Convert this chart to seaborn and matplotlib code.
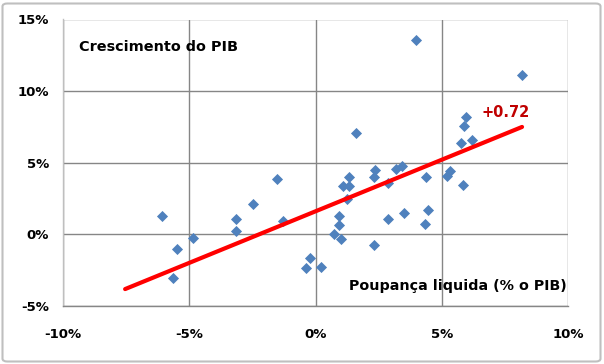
import matplotlib
matplotlib.use("Agg")
import matplotlib.pyplot as plt
import seaborn as sns
import pandas as pd
import numpy as np
from matplotlib.patches import FancyBboxPatch
from matplotlib.ticker import FuncFormatter

# Data (in %)
poupanca = [-6.07, -5.50, -5.63, -4.84, -3.15, -3.15, -2.46, -1.54, -1.28, -0.38,
            -0.22, 0.23, 1.60, 1.31, 1.10, 1.31, 1.23, 0.94, 0.92, 0.73,
            1.00, 2.30, 2.36, 2.30, 2.88, 2.86, 3.19, 3.41, 3.50, 4.37,
            4.47, 4.34, 5.20, 5.33, 5.83, 5.75, 5.88, 5.95, 6.20, 3.98, 8.18]
crescimento = [1.31, -1.00, -3.08, -0.24, 1.04, 0.25, 2.09, 3.90, 0.91, -2.32,
               -1.68, -2.25, 7.06, 4.00, 3.35, 3.35, 2.47, 1.26, 0.68, 0.00,
               -0.30, -0.71, 4.48, 4.00, 3.57, 1.04, 4.55, 4.76, 1.47, 4.00,
               1.68, 0.69, 4.05, 4.40, 3.43, 6.41, 7.57, 8.20, 6.57, 13.57, 11.14]
trend_slope = 0.72
trend_intercept = 1.61
trend_x = [-7.54, 8.18]
slope_label = "+0.72"
x_ticks = [-10, -5, 0, 5, 10]
y_ticks = [-5, 0, 5, 10, 15]
y_title = "Crescimento do PIB"
x_title = "Poupança liquida (% o PIB)"

df = pd.DataFrame({"x": poupanca, "y": crescimento})
trend = pd.DataFrame({"x": trend_x, "y": [trend_slope * v + trend_intercept for v in trend_x]})

sns.set_theme(style="white")
plt.rcParams['font.family'] = ['DejaVu Sans']

fig = plt.figure(figsize=(6.04, 3.64), dpi=100)
ax = fig.add_axes([63 / 604, 1 - 306 / 364, (568 - 63) / 604, (306 - 19.5) / 364])

# outer chart border
border = FancyBboxPatch((2.5 / 604, 2.5 / 364), 598 / 604, 358 / 364,
                        boxstyle="round,pad=0,rounding_size=0.008",
                        transform=fig.transFigure, fill=False,
                        edgecolor="#BFBFBF", linewidth=1.5)
fig.patches.append(border)

sns.scatterplot(data=df, x="x", y="y", ax=ax, marker="D", s=32,
                color="#4F81BD", linewidth=0, zorder=3)
sns.lineplot(data=trend, x="x", y="y", ax=ax, color="#FF0000", linewidth=3,
             zorder=4, solid_capstyle="round")

ax.set_xlim(-10, 10)
ax.set_ylim(-5, 15)
ax.set_xticks(x_ticks)
ax.set_yticks(y_ticks)
fmt = FuncFormatter(lambda v, p: f"{int(v)}%")
ax.xaxis.set_major_formatter(fmt)
ax.yaxis.set_major_formatter(fmt)
ax.set_xlabel("")
ax.set_ylabel("")

ax.grid(True, color="#868686", linewidth=1)
ax.set_axisbelow(True)
for s in ["top", "right"]:
    ax.spines[s].set_visible(False)
ax.spines["left"].set_color("#BFBFBF")
ax.spines["bottom"].set_color("#868686")
ax.spines["left"].set_linewidth(1)
ax.spines["bottom"].set_linewidth(1)

ax.tick_params(axis="both", direction="out", length=3, width=1, color="#868686",
               labelsize=9.5, labelcolor="black")
ax.tick_params(axis="y", pad=7)
ax.tick_params(axis="x", pad=13)
for lab in ax.get_xticklabels() + ax.get_yticklabels():
    lab.set_fontweight("bold")

ax.text(-9.35, 13.1, y_title, fontsize=10.4, fontweight="bold", ha="left", va="center",
        color="black")
ax.text(9.95, -3.6, x_title, fontsize=10.3, fontweight="bold", ha="right", va="center",
        color="black")
ax.text(7.54, 8.5, slope_label, fontsize=10.5, fontweight="bold", ha="center",
        va="center", color="#C00000")

fig.savefig("out.png", dpi=100)
